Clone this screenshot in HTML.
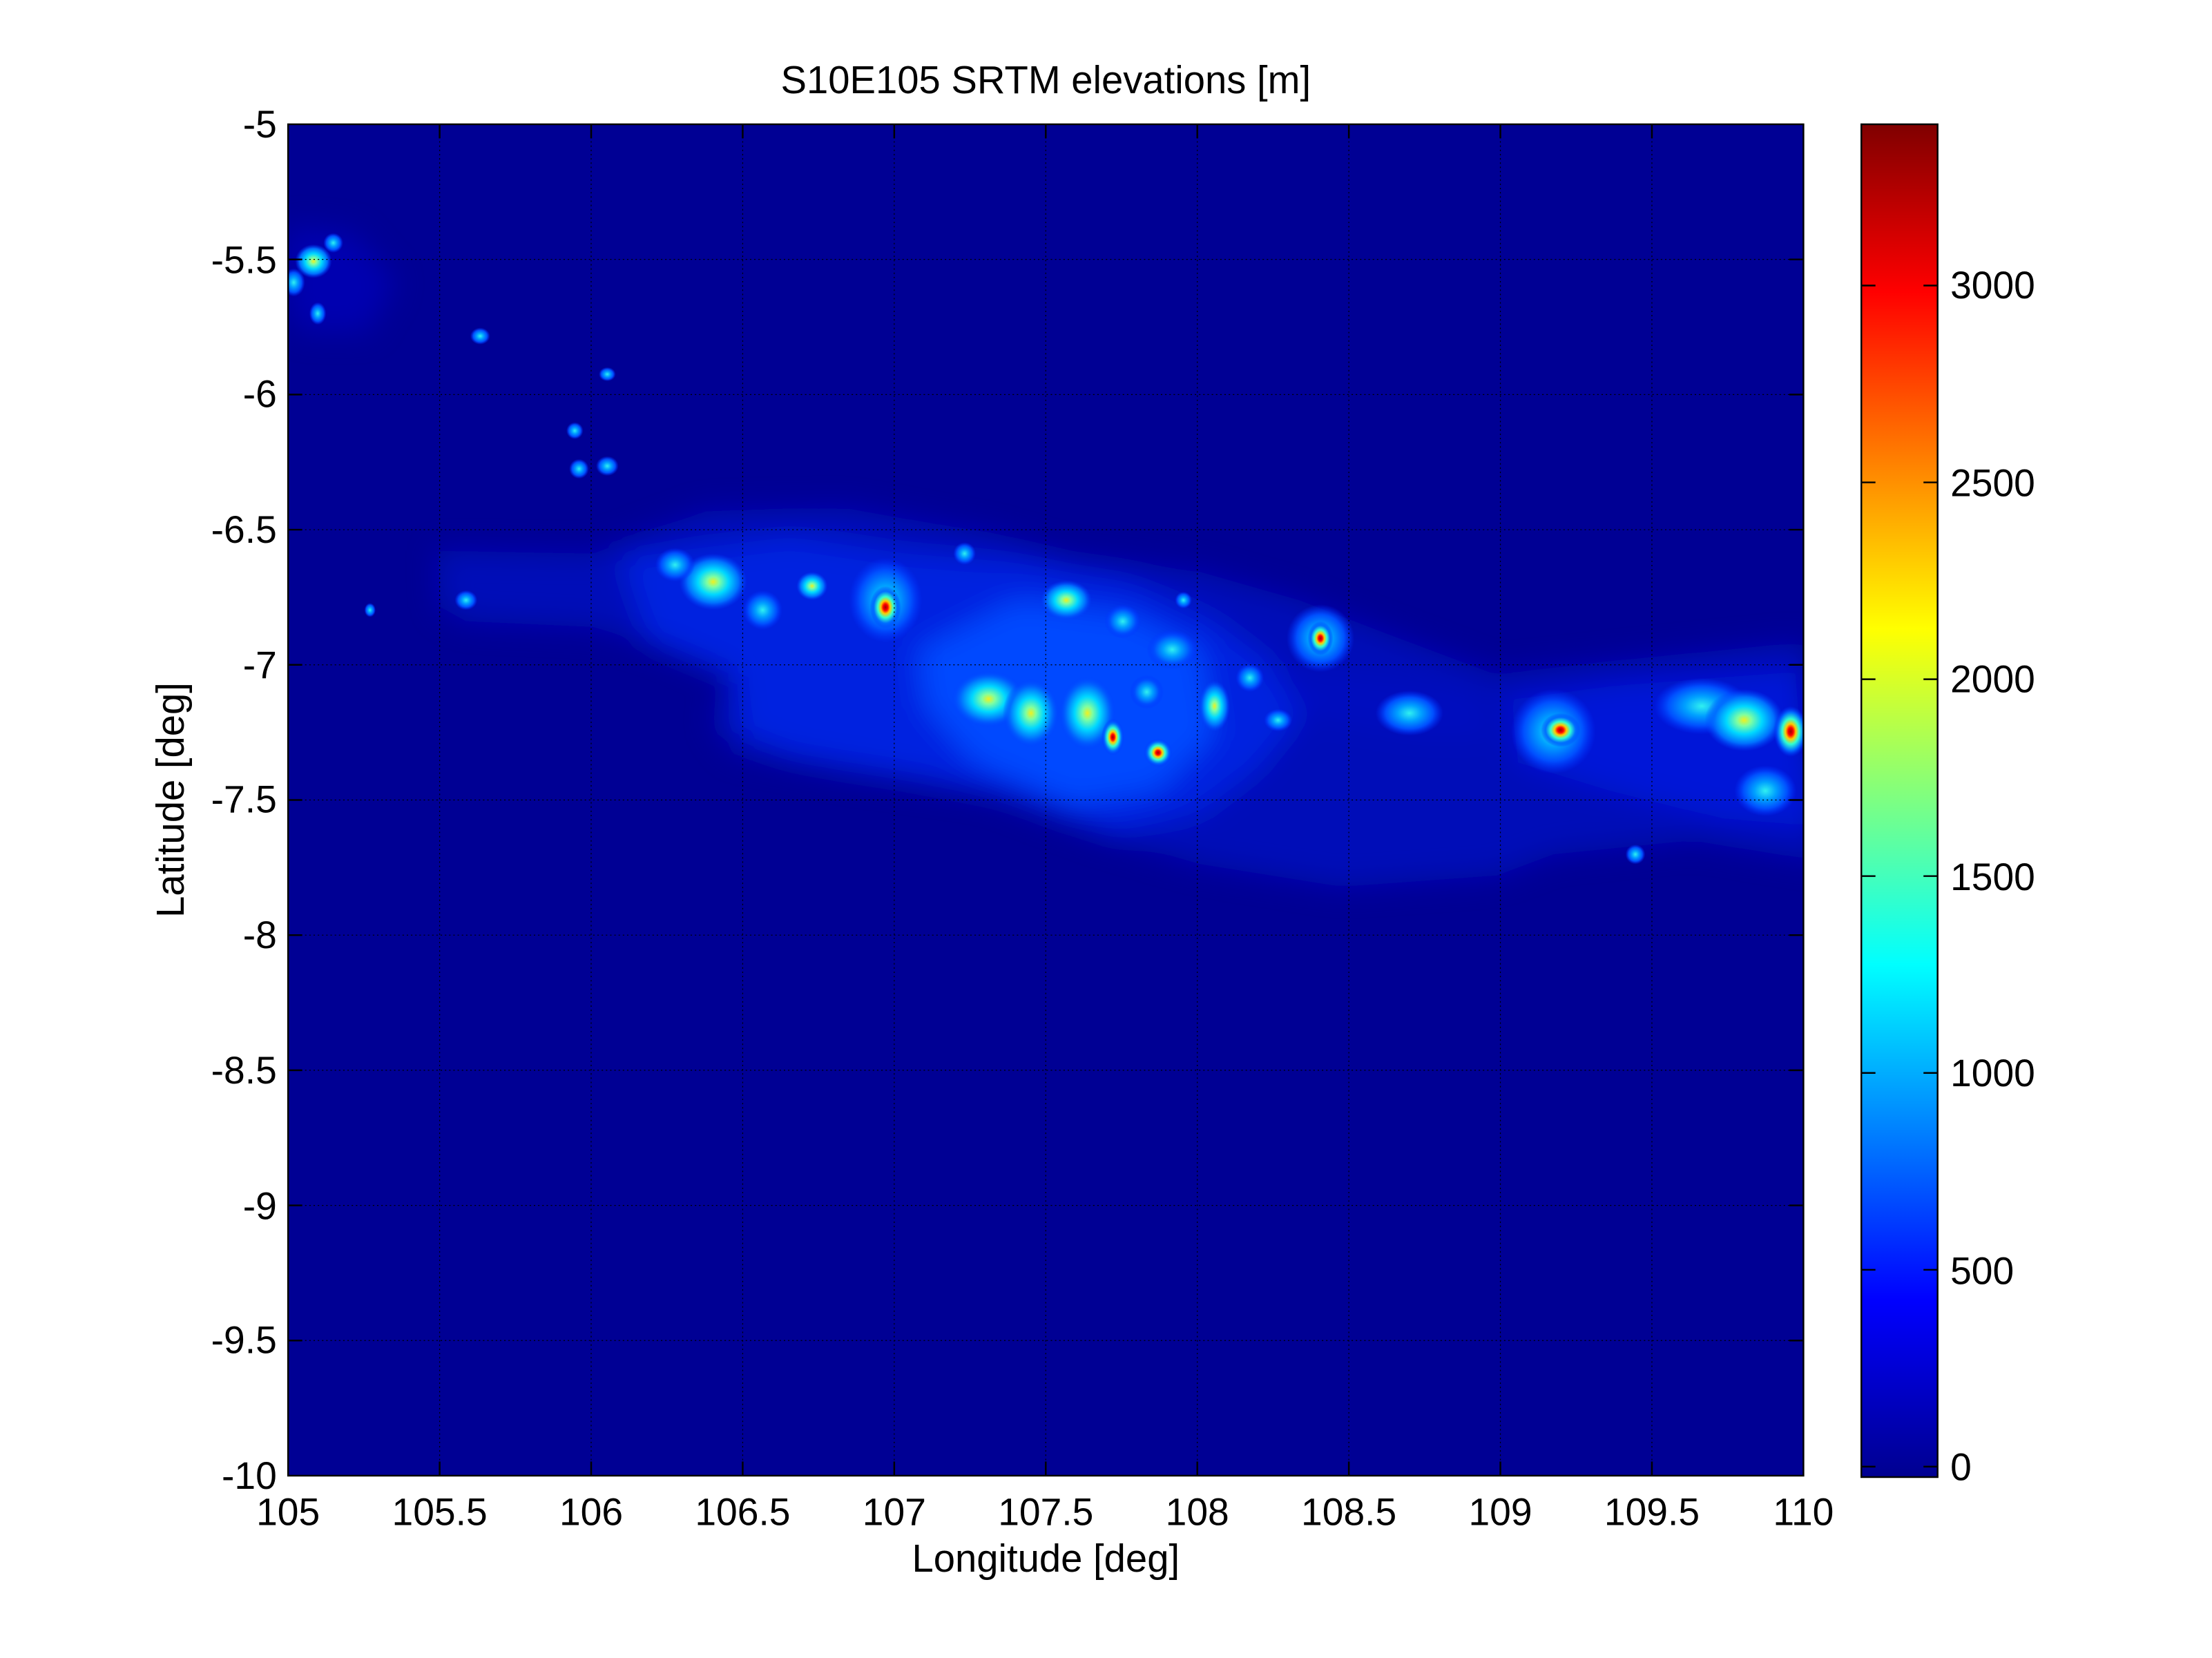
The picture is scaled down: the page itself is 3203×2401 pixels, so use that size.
<!DOCTYPE html>
<html><head><meta charset="utf-8"><style>
html,body{margin:0;padding:0;background:#fff;}
svg{display:block;}
text{font-family:"Liberation Sans",Arial,sans-serif;fill:#000;}
</style></head><body>
<svg width="3203" height="2401" viewBox="0 0 1566.3 1174.1" xmlns="http://www.w3.org/2000/svg">
<defs>
<clipPath id="pc"><rect x="204" y="88" width="1073" height="957"/></clipPath>
<filter id="b6" x="-20%" y="-50%" width="140%" height="200%"><feGaussianBlur stdDeviation="10"/></filter>
<radialGradient id="hot"><stop offset="0" stop-color="#a00000"/><stop offset="0.15" stop-color="#ff0000"/><stop offset="0.3" stop-color="#ffcc00"/><stop offset="0.5" stop-color="#30ffd0"/><stop offset="0.75" stop-color="#0070ff"/><stop offset="1" stop-color="#0030ff" stop-opacity="0"/></radialGradient>
<radialGradient id="warm"><stop offset="0" stop-color="#f0f020"/><stop offset="0.18" stop-color="#80ffa0"/><stop offset="0.45" stop-color="#00d8ff"/><stop offset="0.75" stop-color="#0070ff"/><stop offset="1" stop-color="#0040ff" stop-opacity="0"/></radialGradient>
<radialGradient id="cool"><stop offset="0" stop-color="#30f0f0"/><stop offset="0.35" stop-color="#00a0ff"/><stop offset="0.7" stop-color="#0050ff"/><stop offset="1" stop-color="#0030ff" stop-opacity="0"/></radialGradient>
<linearGradient id="jet" x1="0" y1="1" x2="0" y2="0"><stop offset="0" stop-color="#000090"/><stop offset="0.131" stop-color="#0000ff"/><stop offset="0.379" stop-color="#00ffff"/><stop offset="0.627" stop-color="#ffff00"/><stop offset="0.876" stop-color="#ff0000"/><stop offset="1" stop-color="#800000"/></linearGradient>
</defs>
<rect x="204" y="88" width="1073" height="957" fill="#000094"/>
<g clip-path="url(#pc)">
<g filter="url(#b6)">
<polygon fill="#0008b8" points="310,390 420,392 500,362 600,360 700,378 760,395 850,405 920,425 980,448 1060,478 1150,468 1277,455 1290,610 1200,595 1100,605 1060,620 950,628 850,612 780,592 700,562 600,548 520,532 505,512 518,472 480,462 420,444 330,440 312,430"/>
<polygon fill="#0020e0" points="440,395 560,380 640,392 720,398 800,412 860,440 900,470 930,495 890,545 850,575 790,590 720,565 640,548 560,535 525,520 520,480 460,455"/>
<polygon fill="#0048ff" points="650,460 720,425 800,435 850,460 860,520 820,560 760,570 690,540 655,500"/>
<polygon fill="#0018d8" points="1070,495 1140,485 1277,475 1285,585 1220,580 1140,560 1075,540"/>
<polygon fill="#0008c0" points="900,475 1040,492 1060,520 1000,520 920,505"/>
<polygon fill="#0004b0" points="204,160 250,165 280,200 260,235 215,235 204,220"/>
</g>
<g>
<ellipse cx="505" cy="412" rx="24" ry="20" fill="url(#warm)"/>
<ellipse cx="478" cy="400" rx="14" ry="12" fill="url(#cool)"/>
<ellipse cx="540" cy="432" rx="14" ry="14" fill="url(#cool)"/>
<ellipse cx="575" cy="415" rx="11" ry="10" fill="url(#warm)"/>
<ellipse cx="627" cy="425" rx="26" ry="30" fill="url(#cool)"/>
<ellipse cx="627" cy="430" rx="11" ry="15" fill="url(#hot)"/>
<ellipse cx="683" cy="392" rx="8" ry="8" fill="url(#cool)"/>
<ellipse cx="755" cy="425" rx="18" ry="14" fill="url(#warm)"/>
<ellipse cx="795" cy="440" rx="13" ry="12" fill="url(#cool)"/>
<ellipse cx="838" cy="425" rx="6" ry="6" fill="url(#cool)"/>
<ellipse cx="830" cy="460" rx="18" ry="14" fill="url(#cool)"/>
<ellipse cx="935" cy="452" rx="24" ry="24" fill="url(#cool)"/>
<ellipse cx="935" cy="452" rx="9" ry="12" fill="url(#hot)"/>
<ellipse cx="700" cy="495" rx="26" ry="20" fill="url(#warm)"/>
<ellipse cx="730" cy="505" rx="20" ry="24" fill="url(#warm)"/>
<ellipse cx="770" cy="505" rx="20" ry="26" fill="url(#warm)"/>
<ellipse cx="788" cy="522" rx="8" ry="13" fill="url(#hot)"/>
<ellipse cx="820" cy="533" rx="10" ry="10" fill="url(#hot)"/>
<ellipse cx="812" cy="490" rx="12" ry="12" fill="url(#cool)"/>
<ellipse cx="860" cy="500" rx="11" ry="18" fill="url(#warm)"/>
<ellipse cx="885" cy="480" rx="10" ry="10" fill="url(#cool)"/>
<ellipse cx="905" cy="510" rx="10" ry="8" fill="url(#cool)"/>
<ellipse cx="998" cy="505" rx="24" ry="16" fill="url(#cool)"/>
<ellipse cx="1100" cy="518" rx="30" ry="30" fill="url(#cool)"/>
<ellipse cx="1105" cy="517" rx="14" ry="12" fill="url(#hot)"/>
<ellipse cx="1205" cy="500" rx="34" ry="20" fill="url(#cool)"/>
<ellipse cx="1235" cy="510" rx="28" ry="22" fill="url(#warm)"/>
<ellipse cx="1268" cy="518" rx="12" ry="18" fill="url(#hot)"/>
<ellipse cx="1250" cy="560" rx="22" ry="18" fill="url(#cool)"/>
<ellipse cx="222" cy="185" rx="13" ry="12" fill="url(#warm)"/>
<ellipse cx="236" cy="172" rx="7" ry="7" fill="url(#cool)"/>
<ellipse cx="208" cy="200" rx="8" ry="10" fill="url(#cool)"/>
<ellipse cx="225" cy="222" rx="6" ry="8" fill="url(#cool)"/>
<ellipse cx="340" cy="238" rx="7" ry="6" fill="url(#cool)"/>
<ellipse cx="430" cy="330" rx="8" ry="7" fill="url(#cool)"/>
<ellipse cx="410" cy="332" rx="7" ry="7" fill="url(#cool)"/>
<ellipse cx="430" cy="265" rx="6" ry="5" fill="url(#cool)"/>
<ellipse cx="407" cy="305" rx="6" ry="6" fill="url(#cool)"/>
<ellipse cx="262" cy="432" rx="4" ry="5" fill="url(#cool)"/>
<ellipse cx="330" cy="425" rx="8" ry="7" fill="url(#cool)"/>
<ellipse cx="1158" cy="605" rx="7" ry="7" fill="url(#cool)"/>
</g>
</g>
<g stroke="#000" stroke-width="0.6" stroke-dasharray="1,2" fill="none">
<path d="M311.3,88V1045M418.6,88V1045M525.9,88V1045M633.2,88V1045M740.5,88V1045M847.8,88V1045M955.1,88V1045M1062.4,88V1045M1169.7,88V1045"/>
<path d="M204,183.7H1277M204,279.4H1277M204,375.1H1277M204,470.8H1277M204,566.5H1277M204,662.2H1277M204,757.9H1277M204,853.6H1277M204,949.3H1277"/>
</g>
<g stroke="#000" stroke-width="1.2" fill="none">
<rect x="204" y="88" width="1073" height="957"/>
<path d="M311.3,1045v-10M418.6,1045v-10M525.9,1045v-10M633.2,1045v-10M740.5,1045v-10M847.8,1045v-10M955.1,1045v-10M1062.4,1045v-10M1169.7,1045v-10M311.3,88v10M418.6,88v10M525.9,88v10M633.2,88v10M740.5,88v10M847.8,88v10M955.1,88v10M1062.4,88v10M1169.7,88v10"/>
<path d="M204,183.7h10M204,279.4h10M204,375.1h10M204,470.8h10M204,566.5h10M204,662.2h10M204,757.9h10M204,853.6h10M204,949.3h10M1277,183.7h-10M1277,279.4h-10M1277,375.1h-10M1277,470.8h-10M1277,566.5h-10M1277,662.2h-10M1277,757.9h-10M1277,853.6h-10M1277,949.3h-10"/>
</g>
<rect x="1318" y="88" width="54" height="958" fill="url(#jet)" stroke="#000" stroke-width="1.2"/>
<g stroke="#000" stroke-width="1.2">
<path d="M1318,1038.6h10M1372,1038.6h-10M1318,899.2h10M1372,899.2h-10M1318,759.8h10M1372,759.8h-10M1318,620.4h10M1372,620.4h-10M1318,481h10M1372,481h-10M1318,341.6h10M1372,341.6h-10M1318,202.2h10M1372,202.2h-10"/>
</g>
<g font-size="27" text-anchor="start" dominant-baseline="central">
<text x="1381" y="1039">0</text><text x="1381" y="900">500</text><text x="1381" y="760">1000</text><text x="1381" y="621">1500</text><text x="1381" y="481">2000</text><text x="1381" y="342">2500</text><text x="1381" y="202">3000</text>
</g>
<g font-size="27" text-anchor="end" dominant-baseline="central">
<text x="196" y="88">-5</text><text x="196" y="184">-5.5</text><text x="196" y="279">-6</text><text x="196" y="375">-6.5</text><text x="196" y="471">-7</text><text x="196" y="566">-7.5</text><text x="196" y="662">-8</text><text x="196" y="758">-8.5</text><text x="196" y="854">-9</text><text x="196" y="949">-9.5</text><text x="196" y="1045">-10</text>
</g>
<g font-size="27" text-anchor="middle">
<text x="204" y="1080">105</text><text x="311.3" y="1080">105.5</text><text x="418.6" y="1080">106</text><text x="525.9" y="1080">106.5</text><text x="633.2" y="1080">107</text><text x="740.5" y="1080">107.5</text><text x="847.8" y="1080">108</text><text x="955.1" y="1080">108.5</text><text x="1062.4" y="1080">109</text><text x="1169.7" y="1080">109.5</text><text x="1277" y="1080">110</text>
</g>
<g font-size="27.5" text-anchor="middle">
<text x="740.5" y="1113">Longitude [deg]</text>
<text x="740.5" y="66">S10E105 SRTM elevations [m]</text>
<text transform="translate(130,566.5) rotate(-90)">Latitude [deg]</text>
</g>
</svg>
</body></html>
